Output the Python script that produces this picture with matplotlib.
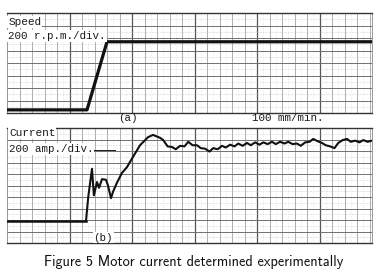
import matplotlib.pyplot as plt
import numpy as np

# chart paper: time in divisions (100 mm/min), 200 units per vertical division
speed_t = [0, 6.4, 8.0, 29.2]
speed_rpm = [50, 50, 1140, 1140]

cur_t = [0, 6.32, 6.5, 6.8, 6.95, 7.2, 7.36, 7.6, 7.92, 8.08, 8.32, 8.48, 8.8,
         9.2, 9.6, 9.84, 10.64, 11.28, 11.68, 12.24,
         12.5, 12.85, 13.2, 13.5, 13.85, 14.2, 14.5, 14.85, 15.2, 15.5, 15.85,
         16.2, 16.5, 16.85, 17.2, 17.5, 17.85, 18.2, 18.5, 18.85, 19.2, 19.5,
         19.85, 20.2, 20.5, 20.85, 21.2, 21.5, 21.85, 22.2, 22.5, 22.85, 23.2,
         23.5, 23.85, 24.2, 24.5, 24.85, 25.2, 25.5, 25.85, 26.2, 26.5, 26.85,
         27.2, 27.5, 27.85, 28.2, 28.5, 28.85, 29.2]
cur_amp = [383, 383, 800, 1290, 830, 1060, 960, 1110, 1100, 1000, 780, 890, 1050,
           1220, 1320, 1410, 1700, 1840, 1880, 1830,
           1790, 1680, 1670, 1630, 1690, 1680, 1760, 1700, 1700, 1650, 1640,
           1590, 1650, 1630, 1690, 1660, 1710, 1680, 1730, 1690, 1740, 1700,
           1750, 1710, 1750, 1720, 1760, 1720, 1760, 1730, 1760, 1720, 1730,
           1690, 1750, 1760, 1810, 1770, 1740, 1700, 1680, 1650, 1740, 1790,
           1810, 1760, 1780, 1750, 1790, 1760, 1780]

W, H = 382, 275
fig = plt.figure(figsize=(W / 100, H / 100), dpi=100)
mono = 'Liberation Mono'
ink = '#1a1a1a'
box = dict(fc='white', ec='none', pad=0.6)


def paper(ax, ndiv, per_div):
    ax.set_xlim(0, 29.2)
    ax.set_ylim(0, ndiv * per_div)
    for x in np.arange(0.5, 29.2, 1.0):
        ax.axvline(x, color='#d4d4d4', lw=0.4, ls=(0, (1.5, 2.5)), zorder=1)
    for x in range(1, 30):
        major = x % 5 == 0
        ax.axvline(x, color='#555555' if major else '#999999',
                   lw=0.9 if major else 0.55, zorder=1)
    for k in np.arange(0.5, ndiv, 1.0):
        ax.axhline(k * per_div, color='#cfcfcf', lw=0.4, ls=(0, (3, 2)), zorder=1)
    for k in range(1, ndiv):
        ax.axhline(k * per_div, color='#707070', lw=0.7, zorder=1)
    ax.set_xticks([])
    ax.set_yticks([])
    for s in ['top', 'bottom']:
        ax.spines[s].set_color('#333333')
        ax.spines[s].set_linewidth(1.0)
    for s in ['left', 'right']:
        ax.spines[s].set_color('#888888')
        ax.spines[s].set_linewidth(0.6)


# panel (a): speed
ax1 = fig.add_axes([7 / W, 1 - 113 / H, 365 / W, 100 / H])
paper(ax1, 8, 200)
ax1.plot(speed_t, speed_rpm, color='#111111', lw=2.3, zorder=3)
ax1.text(0.1, 1460, 'Speed', family=mono, fontsize=8, va='center', color=ink,
         bbox=box, zorder=4)
ax1.text(0.1, 1230, '200 r.p.m./div.', family=mono, fontsize=7.8, va='center',
         color=ink, bbox=box, zorder=4)
ax1.plot([7.5, 8.0], [1150, 1150], color=ink, lw=0.8, zorder=3)

fig.text(128 / W, 1 - 118 / H, '(a)', family=mono, fontsize=7.8, ha='center',
         va='center', color=ink)
fig.text(288 / W, 1 - 118 / H, '100 mm/min.', family=mono, fontsize=7.8,
         ha='center', va='center', color=ink)

# panel (b): current
ax2 = fig.add_axes([7 / W, 1 - 243 / H, 365 / W, 115 / H])
paper(ax2, 10, 200)
ax2.plot(cur_t[:2], cur_amp[:2], color='#111111', lw=1.8, zorder=3)
ax2.plot(cur_t[1:], cur_amp[1:], color='#111111', lw=1.5, zorder=3)
ax2.text(0.15, 1910, 'Current', family=mono, fontsize=8, va='center', color=ink,
         bbox=box, zorder=4)
ax2.text(0.15, 1640, '200 amp./div.', family=mono, fontsize=7.8, va='center',
         color=ink, bbox=box, zorder=4)
ax2.plot([6.6, 8.6], [1620, 1620], color=ink, lw=0.7, zorder=3)
ax2.text(7.7, 95, '(b)', family=mono, fontsize=7.8, ha='center', va='center',
         color=ink, bbox=box, zorder=4)

fig.text(194 / W, 1 - 262 / H, 'Figure 5 Motor current determined experimentally',
         family='cmss10', fontsize=10.3, ha='center', va='center', color='#111111')

fig.savefig('out.png', dpi=100)
